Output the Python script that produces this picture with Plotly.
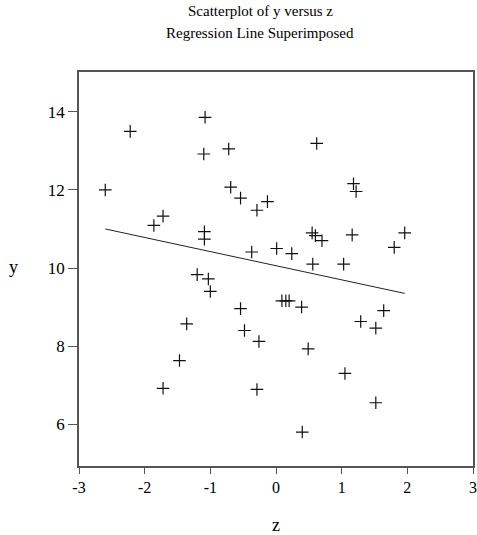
import plotly.graph_objects as go

z = [-2.60, -2.22, -1.08, -1.10, -0.72, -0.69, -0.54, -0.29, -0.13, -1.86,
     -1.72, -1.09, -1.09, -0.37, 0.01, -1.20, -1.03, -1.00, -0.54, -1.36,
     -0.48, -0.26, -1.47, -1.72, -0.29, 0.62, 1.18, 1.22, 0.55, 0.60,
     0.70, 1.16, 1.96, 1.80, 0.24, 0.56, 1.03, 0.09, 0.15, 0.20,
     0.39, 1.64, 1.29, 1.52, 0.49, 1.05, 1.52, 0.40]
y = [12.00, 13.50, 13.86, 12.92, 13.05, 12.07, 11.79, 11.48, 11.70, 11.09,
     11.33, 10.93, 10.74, 10.41, 10.50, 9.83, 9.72, 9.40, 8.96, 8.57,
     8.40, 8.12, 7.63, 6.92, 6.89, 13.19, 12.16, 11.96, 10.90, 10.83,
     10.70, 10.85, 10.90, 10.53, 10.37, 10.10, 10.10, 9.16, 9.16, 9.16,
     9.00, 8.91, 8.63, 8.46, 7.93, 7.30, 6.55, 5.80]

fit_z = [-2.60, 1.96]
fit_y = [11.00, 9.35]

x_ticks = [-3, -2, -1, 0, 1, 2, 3]
x_labels = ["-3", "-2", "-1", "0", "1", "2", "3"]
y_ticks = [6, 8, 10, 12, 14]
y_labels = ["6", "8", "10", "12", "14"]

serif = "Liberation Serif"

fig = go.Figure()
fig.add_trace(go.Scatter(x=fit_z, y=fit_y, mode="lines",
                         line=dict(color="#222222", width=1), showlegend=False))
fig.add_trace(go.Scatter(x=z, y=y, mode="markers",
                         marker=dict(symbol="cross-thin", size=9,
                                     line=dict(color="#111111", width=1.2)),
                         showlegend=False))

fig.update_layout(
    width=477, height=535,
    margin=dict(l=79, r=4, t=72, b=69, autoexpand=False),
    paper_bgcolor="white", plot_bgcolor="white",
    font=dict(family=serif, color="black", size=17),
    xaxis=dict(range=[-3, 3], tickvals=x_ticks, ticktext=x_labels,
               ticks="outside", ticklen=6, automargin=False,
               ticklabeloverflow="allow",
               tickcolor="#555555", showline=True, linecolor="#555555",
               linewidth=1.5, mirror=True, showgrid=False, zeroline=False,
               tickfont=dict(family=serif, size=16, color="black")),
    yaxis=dict(range=[4.93, 15.02], tickvals=y_ticks, ticktext=y_labels,
               ticks="outside", ticklen=9, automargin=False,
               tickcolor="#555555", showline=True, linecolor="#555555",
               linewidth=1.5, mirror=True, showgrid=False, zeroline=False,
               tickfont=dict(family=serif, size=17, color="black")),
    annotations=[
        dict(text="Scatterplot of y versus z", xref="paper", yref="paper",
             x=0.46, y=1.155, xanchor="center", yanchor="middle",
             showarrow=False, font=dict(family=serif, size=15)),
        dict(text="Regression Line Superimposed", xref="paper", yref="paper",
             x=0.46, y=1.1, xanchor="center", yanchor="middle",
             showarrow=False, font=dict(family=serif, size=15)),
        dict(text="z", xref="paper", yref="paper", x=0.5, y=-0.15,
             xanchor="center", yanchor="middle", showarrow=False,
             font=dict(family=serif, size=18)),
        dict(text="y", xref="paper", yref="paper", x=-0.165, y=0.505,
             xanchor="center", yanchor="middle", showarrow=False,
             font=dict(family=serif, size=18)),
    ],
)

fig.write_html(
    "out.html",
    config={"displayModeBar": False},
    post_script="document.body.style.margin='0';document.body.style.padding='0';"
                "document.documentElement.style.overflow='hidden';"
                "document.body.style.overflow='hidden';",
)
